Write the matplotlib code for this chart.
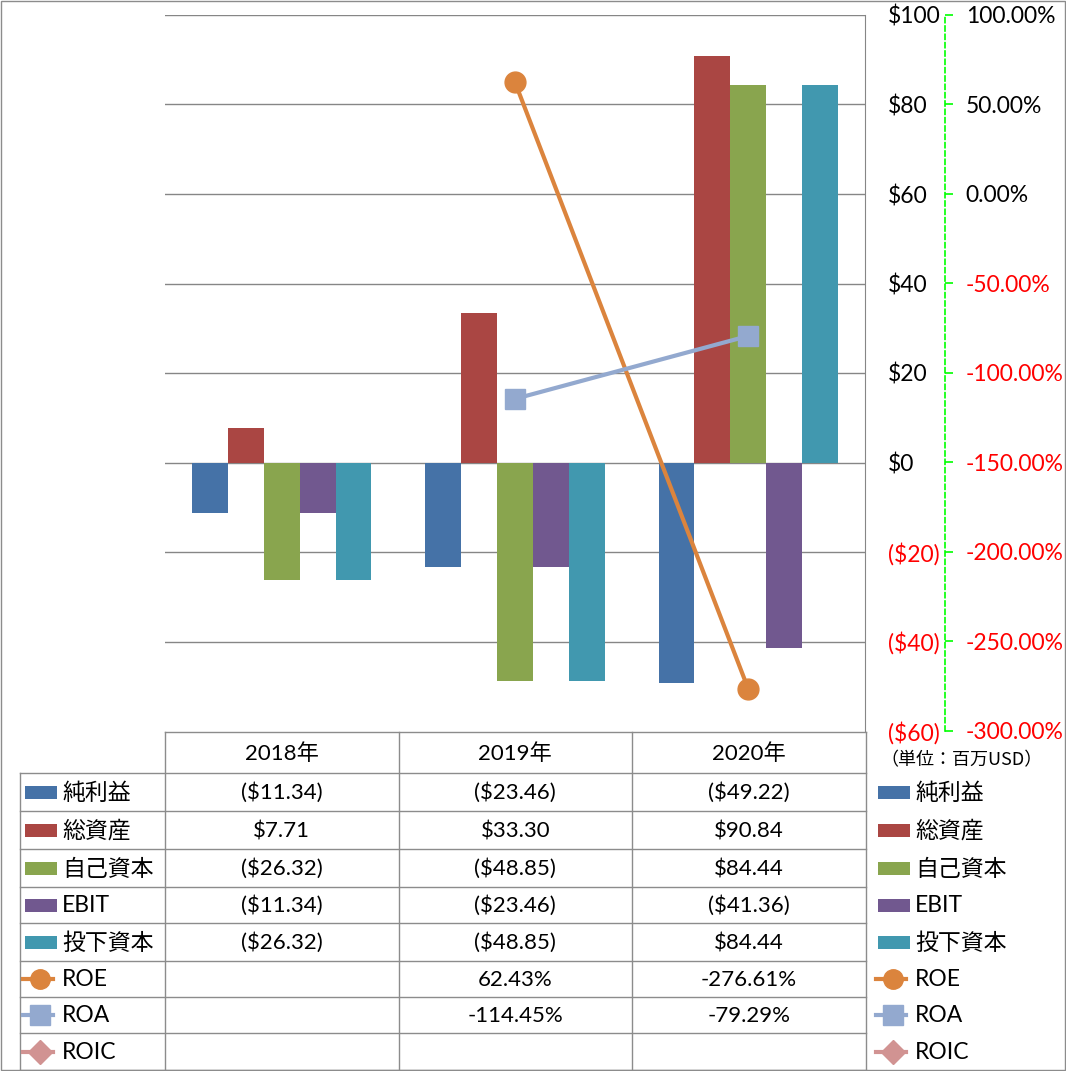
import matplotlib
matplotlib.use("Agg")
import matplotlib.pyplot as plt
from matplotlib.lines import Line2D
from matplotlib.patches import Rectangle
import numpy as np

plt.rcParams['font.family'] = ['Lato', 'Noto Sans CJK JP', 'DejaVu Sans']

# data
years = ['2018年', '2019年', '2020年']
bar_names = ['純利益', '総資産', '自己資本', 'EBIT', '投下資本']
net_income = [-11.34, -23.46, -49.22]
total_assets = [7.71, 33.30, 90.84]
equity = [-26.32, -48.85, 84.44]
ebit = [-11.34, -23.46, -41.36]
invested_capital = [-26.32, -48.85, 84.44]
line_names = ['ROE', 'ROA', 'ROIC']
roe = [np.nan, 62.43, -276.61]
roa = [np.nan, -114.45, -79.29]
roic = [np.nan, np.nan, np.nan]

bar_series = [net_income, total_assets, equity, ebit, invested_capital]
line_series = [roe, roa, roic]
bar_colors = ['#4572A7', '#AA4643', '#89A54E', '#71588F', '#4198AF']
line_colors = ['#DB843D', '#93A9CF', '#D19392']
line_markers = ['o', 's', 'D']

left_ticks = [-60, -40, -20, 0, 20, 40, 60, 80, 100]
right_ticks = [-300, -250, -200, -150, -100, -50, 0, 50, 100]

W, H = 1066, 1071
fig = plt.figure(figsize=(W / 100, H / 100), dpi=100)

# plot area in pixels
px0, px1, py0, py1 = 165, 865, 15, 731
ax = fig.add_axes([px0 / W, 1 - py1 / H, (px1 - px0) / W, (py1 - py0) / H])

grid_c = '#868686'
x = np.arange(len(years))
bw = 1 / 6.5
for i, (vals, c) in enumerate(zip(bar_series, bar_colors)):
    ax.bar(x + (i - 2) * bw, vals, width=bw, color=c, zorder=2)

ax.set_xlim(-0.5, 2.5)
ax.set_ylim(-60, 100)
ax.set_xticks([])
for t in left_ticks[1:]:
    ax.axhline(t, color=grid_c, lw=1, zorder=1)

ax2 = ax.twinx()
for vals, c, m in zip(line_series, line_colors, line_markers):
    ax2.plot(x, vals, color=c, lw=3, marker=m, markersize=15, zorder=3)
ax2.set_ylim(-300, 100)
ax2.set_yticks(right_ticks)
ax2.set_yticklabels(['%.2f%%' % t for t in right_ticks])
for s in ['left', 'top', 'bottom']:
    ax2.spines[s].set_visible(False)
ax2.spines['right'].set_position(('axes', (945 - px0) / (px1 - px0)))
ax2.spines['right'].set_color('#00FF00')
ax2.spines['right'].set_linewidth(1.2)
ax2.spines['right'].set_linestyle((0, (3, 2)))
ax2.tick_params(axis='y', length=6, width=1.2, color='#00FF00', pad=9, labelsize=16.5)
for lab, t in zip(ax2.get_yticklabels(), right_ticks):
    lab.set_color('red' if t < -0.001 else 'black')

# primary axis labels on the right (after twinx)
ax.yaxis.tick_right()
ax.yaxis.set_label_position('right')
ax.set_yticks(left_ticks)
ax.set_yticklabels(['($%d)' % -t if t < 0 else '$%d' % t for t in left_ticks])
ax.tick_params(axis='y', left=False, right=True, labelleft=False, labelright=True,
               length=0, pad=16.5, labelsize=16.5)
for lab, t in zip(ax.get_yticklabels(), left_ticks):
    lab.set_horizontalalignment('left')
    lab.set_color('red' if t < 0 else 'black')
for s in ['left', 'top', 'bottom']:
    ax.spines[s].set_visible(False)
ax.spines['right'].set_color(grid_c)

# overlay in pixel coordinates for table and legends
ov = fig.add_axes([0, 0, 1, 1])
ov.set_xlim(0, W)
ov.set_ylim(H, 0)
ov.axis('off')

tc = '#8C8C8C'
cols = [165, 398.5, 632, 865.5]
rows = [732, 773, 811, 849, 887, 923, 961, 997, 1033, 1070]
ov.plot([cols[0], cols[-1]], [rows[0], rows[0]], color=tc, lw=1)
for r in rows[1:]:
    ov.plot([20, cols[-1]], [r, r], color=tc, lw=1)
for cx in cols:
    ov.plot([cx, cx], [rows[0], rows[-1]], color=tc, lw=1)
ov.plot([20, 20], [rows[1], rows[-1]], color=tc, lw=1)

fs = 16
for j, yname in enumerate(years):
    ov.text((cols[j] + cols[j + 1]) / 2, (rows[0] + rows[1]) / 2 + 1, yname,
            ha='center', va='center', fontsize=fs)


def money(v):
    return '($%.2f)' % -v if v < 0 else '$%.2f' % v


all_names = bar_names + line_names
for i, name in enumerate(all_names):
    yc = (rows[i + 1] + rows[i + 2]) / 2
    if i < 5:
        txt = [money(v) for v in bar_series[i]]
    else:
        txt = ['' if np.isnan(v) else '%.2f%%' % v for v in line_series[i - 5]]
    for j in range(3):
        ov.text((cols[j] + cols[j + 1]) / 2, yc + 1, txt[j], ha='center', va='center', fontsize=fs)
    # legend keys left and right
    for lx in [25, 878]:
        if i < 5:
            ov.add_patch(Rectangle((lx, yc - 6), 32, 13, color=bar_colors[i], lw=0))
        else:
            k = i - 5
            ov.add_line(Line2D([lx - 2, lx + 28], [yc, yc], color=line_colors[k], lw=3))
            ov.add_line(Line2D([lx + 15], [yc], color=line_colors[k], marker=line_markers[k],
                               markersize=14 if k < 2 else 12, lw=0))
        ov.text(lx + 37, yc + 1, name, ha='left', va='center', fontsize=16.5)

ov.text(880, 760, '（単位：百万USD）', ha='left', va='center', fontsize=13,
        family=['Noto Sans CJK JP'])

# outer border
ov.add_patch(Rectangle((0.5, 0.5), W - 1.5, H - 1.5, fill=False, ec=tc, lw=1))

fig.savefig('out.png', dpi=100)
